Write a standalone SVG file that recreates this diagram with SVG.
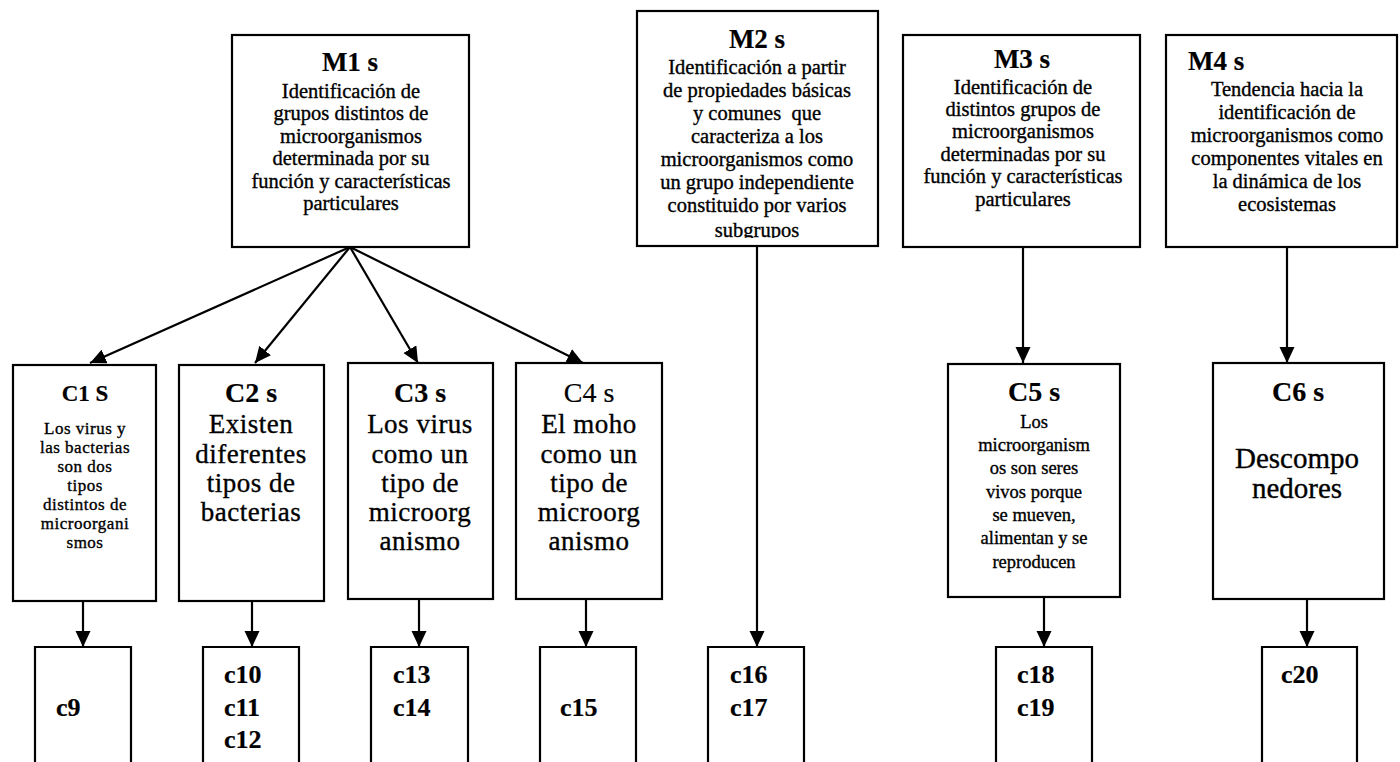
<svg xmlns="http://www.w3.org/2000/svg" width="1400" height="762" viewBox="0 0 1400 762">
  <style>
    .box { fill: #ffffff; stroke: #000000; stroke-width: 2.2; }
    .open { fill: none; stroke: #000000; stroke-width: 2.2; }
    .link { fill: none; stroke: #000000; stroke-width: 2.2; }
    text { font-family: "Liberation Serif", "Times New Roman", serif; fill: #000000; stroke: #000000; stroke-width: 0.35; }
    .mt { font-size: 27px; font-weight: bold; text-anchor: middle; stroke-width: 0.2; }
    .mb { font-size: 20.5px; text-anchor: middle; }
    .ct { font-size: 28px; font-weight: bold; text-anchor: middle; stroke-width: 0.2; }
    .cs { font-size: 18.5px; text-anchor: middle; }
    .cn { font-size: 17px; letter-spacing: 0.5px; text-anchor: middle; }
    .cl { font-size: 27px; letter-spacing: 0.5px; text-anchor: middle; }
    .code { font-size: 26px; font-weight: bold; stroke-width: 0.2; }
  </style>
  <defs>
    <marker id="arrow" markerUnits="userSpaceOnUse" markerWidth="17" markerHeight="16" refX="16" refY="7.5" orient="auto">
      <path d="M0,0 L16,7.5 L0,15 z" fill="#000000"/>
    </marker>
    <clipPath id="m2clip">
      <rect x="638" y="12" width="239" height="226"/>
    </clipPath>
  </defs>
  <rect width="1400" height="762" fill="#ffffff"/>

  <!-- connectors -->
  <g id="connectors">
    <line class="link" x1="350" y1="247" x2="90" y2="363" marker-end="url(#arrow)"/>
    <line class="link" x1="350" y1="247" x2="255" y2="363" marker-end="url(#arrow)"/>
    <line class="link" x1="350" y1="247" x2="418" y2="363" marker-end="url(#arrow)"/>
    <line class="link" x1="350" y1="247" x2="583" y2="363" marker-end="url(#arrow)"/>
    <line class="link" x1="757" y1="246" x2="757" y2="647" marker-end="url(#arrow)"/>
    <line class="link" x1="1023" y1="247" x2="1023" y2="363" marker-end="url(#arrow)"/>
    <line class="link" x1="1287" y1="247" x2="1287" y2="363" marker-end="url(#arrow)"/>
    <line class="link" x1="83" y1="601" x2="83" y2="647" marker-end="url(#arrow)"/>
    <line class="link" x1="252" y1="601" x2="252" y2="647" marker-end="url(#arrow)"/>
    <line class="link" x1="419" y1="599" x2="419" y2="647" marker-end="url(#arrow)"/>
    <line class="link" x1="586" y1="599" x2="586" y2="647" marker-end="url(#arrow)"/>
    <line class="link" x1="1044" y1="597" x2="1044" y2="647" marker-end="url(#arrow)"/>
    <line class="link" x1="1307" y1="599" x2="1307" y2="647" marker-end="url(#arrow)"/>
  </g>

  <!-- top row -->
  <g id="M1">
    <rect class="box" x="232" y="35" width="237" height="212"/>
    <text class="mt" x="350" y="71">M1 s</text>
    <text class="mb" x="351" y="98">Identificación de</text>
    <text class="mb" x="351" y="120">grupos distintos de</text>
    <text class="mb" x="351" y="143">microorganismos</text>
    <text class="mb" x="351" y="165">determinada por su</text>
    <text class="mb" x="351" y="188">función y características</text>
    <text class="mb" x="351" y="210">particulares</text>
  </g>

  <g id="M2">
    <rect class="box" x="637" y="11" width="241" height="235"/>
    <text class="mt" x="757" y="48">M2 s</text>
    <g clip-path="url(#m2clip)">
      <text class="mb" x="757" y="74">Identificación a partir</text>
      <text class="mb" x="757" y="97">de propiedades básicas</text>
      <text class="mb" x="757" y="120" xml:space="preserve">y comunes  que</text>
      <text class="mb" x="757" y="143">caracteriza a los</text>
      <text class="mb" x="757" y="166">microorganismos como</text>
      <text class="mb" x="757" y="189">un grupo independiente</text>
      <text class="mb" x="757" y="212">constituido por varios</text>
      <text class="mb" x="757" y="237">subgrupos</text>
    </g>
  </g>

  <g id="M3">
    <rect class="box" x="903" y="35" width="237" height="212"/>
    <text class="mt" x="1022" y="68">M3 s</text>
    <text class="mb" x="1023" y="94">Identificación de</text>
    <text class="mb" x="1023" y="116">distintos grupos de</text>
    <text class="mb" x="1023" y="138">microorganismos</text>
    <text class="mb" x="1023" y="161">determinadas por su</text>
    <text class="mb" x="1023" y="183">función y características</text>
    <text class="mb" x="1023" y="206">particulares</text>
  </g>

  <g id="M4">
    <rect class="box" x="1166" y="35" width="231" height="212"/>
    <text class="mt" x="1188" y="70" style="text-anchor:start">M4 s</text>
    <text class="mb" x="1287" y="96">Tendencia hacia la</text>
    <text class="mb" x="1287" y="119">identificación de</text>
    <text class="mb" x="1287" y="142">microorganismos como</text>
    <text class="mb" x="1287" y="165">componentes vitales en</text>
    <text class="mb" x="1287" y="188">la dinámica de los</text>
    <text class="mb" x="1287" y="211">ecosistemas</text>
  </g>

  <!-- middle row -->
  <g id="C1">
    <rect class="box" x="13" y="365" width="143" height="236"/>
    <text class="ct" x="85" y="401" style="font-size:23px">C1 S</text>
    <text class="cn" x="85" y="434">Los virus y</text>
    <text class="cn" x="85" y="453">las bacterias</text>
    <text class="cn" x="85" y="472">son dos</text>
    <text class="cn" x="85" y="491">tipos</text>
    <text class="cn" x="85" y="510">distintos de</text>
    <text class="cn" x="85" y="529">microorgani</text>
    <text class="cn" x="85" y="548">smos</text>
  </g>

  <g id="C2">
    <rect class="box" x="179" y="365" width="145" height="236"/>
    <text class="ct" x="251" y="402">C2 s</text>
    <text class="cl" x="251" y="433">Existen</text>
    <text class="cl" x="251" y="463">diferentes</text>
    <text class="cl" x="251" y="492">tipos de</text>
    <text class="cl" x="251" y="521">bacterias</text>
  </g>

  <g id="C3">
    <rect class="box" x="348" y="363" width="145" height="236"/>
    <text class="ct" x="420" y="402">C3 s</text>
    <text class="cl" x="420" y="433">Los virus</text>
    <text class="cl" x="420" y="463">como un</text>
    <text class="cl" x="420" y="492">tipo de</text>
    <text class="cl" x="420" y="521">microorg</text>
    <text class="cl" x="420" y="550">anismo</text>
  </g>

  <g id="C4">
    <rect class="box" x="516" y="363" width="146" height="236"/>
    <text class="ct" x="589" y="402" style="font-weight:normal">C4 s</text>
    <text class="cl" x="589" y="433">El moho</text>
    <text class="cl" x="589" y="463">como un</text>
    <text class="cl" x="589" y="492">tipo de</text>
    <text class="cl" x="589" y="521">microorg</text>
    <text class="cl" x="589" y="550">anismo</text>
  </g>

  <g id="C5">
    <rect class="box" x="948" y="364" width="172" height="233"/>
    <text class="ct" x="1034" y="401">C5 s</text>
    <text class="cs" x="1034" y="428">Los</text>
    <text class="cs" x="1034" y="451">microorganism</text>
    <text class="cs" x="1034" y="474">os son seres</text>
    <text class="cs" x="1034" y="498">vivos porque</text>
    <text class="cs" x="1034" y="521">se mueven,</text>
    <text class="cs" x="1034" y="544">alimentan y se</text>
    <text class="cs" x="1034" y="568">reproducen</text>
  </g>

  <g id="C6">
    <rect class="box" x="1213" y="363" width="171" height="236"/>
    <text class="ct" x="1298" y="401">C6 s</text>
    <text class="cl" x="1297" y="468" style="font-size:29px;letter-spacing:0">Descompo</text>
    <text class="cl" x="1297" y="498" style="font-size:29px;letter-spacing:0">nedores</text>
  </g>

  <!-- bottom row (boxes run past the lower edge) -->
  <g id="B1">
    <path class="open" d="M35,772 V647 H131 V772"/>
    <text class="code" x="56" y="716">c9</text>
  </g>
  <g id="B2">
    <path class="open" d="M203,772 V647 H299 V772"/>
    <text class="code" x="224" y="683">c10</text>
    <text class="code" x="224" y="716">c11</text>
    <text class="code" x="224" y="748">c12</text>
  </g>
  <g id="B3">
    <path class="open" d="M371,772 V647 H468 V772"/>
    <text class="code" x="393" y="683">c13</text>
    <text class="code" x="393" y="716">c14</text>
  </g>
  <g id="B4">
    <path class="open" d="M540,772 V647 H636 V772"/>
    <text class="code" x="560" y="716">c15</text>
  </g>
  <g id="B5">
    <path class="open" d="M708,772 V647 H804 V772"/>
    <text class="code" x="730" y="683">c16</text>
    <text class="code" x="730" y="716">c17</text>
  </g>
  <g id="B6">
    <path class="open" d="M996,772 V647 H1092 V772"/>
    <text class="code" x="1017" y="683">c18</text>
    <text class="code" x="1017" y="716">c19</text>
  </g>
  <g id="B7">
    <path class="open" d="M1262,772 V647 H1357 V772"/>
    <text class="code" x="1281" y="683">c20</text>
  </g>
</svg>
